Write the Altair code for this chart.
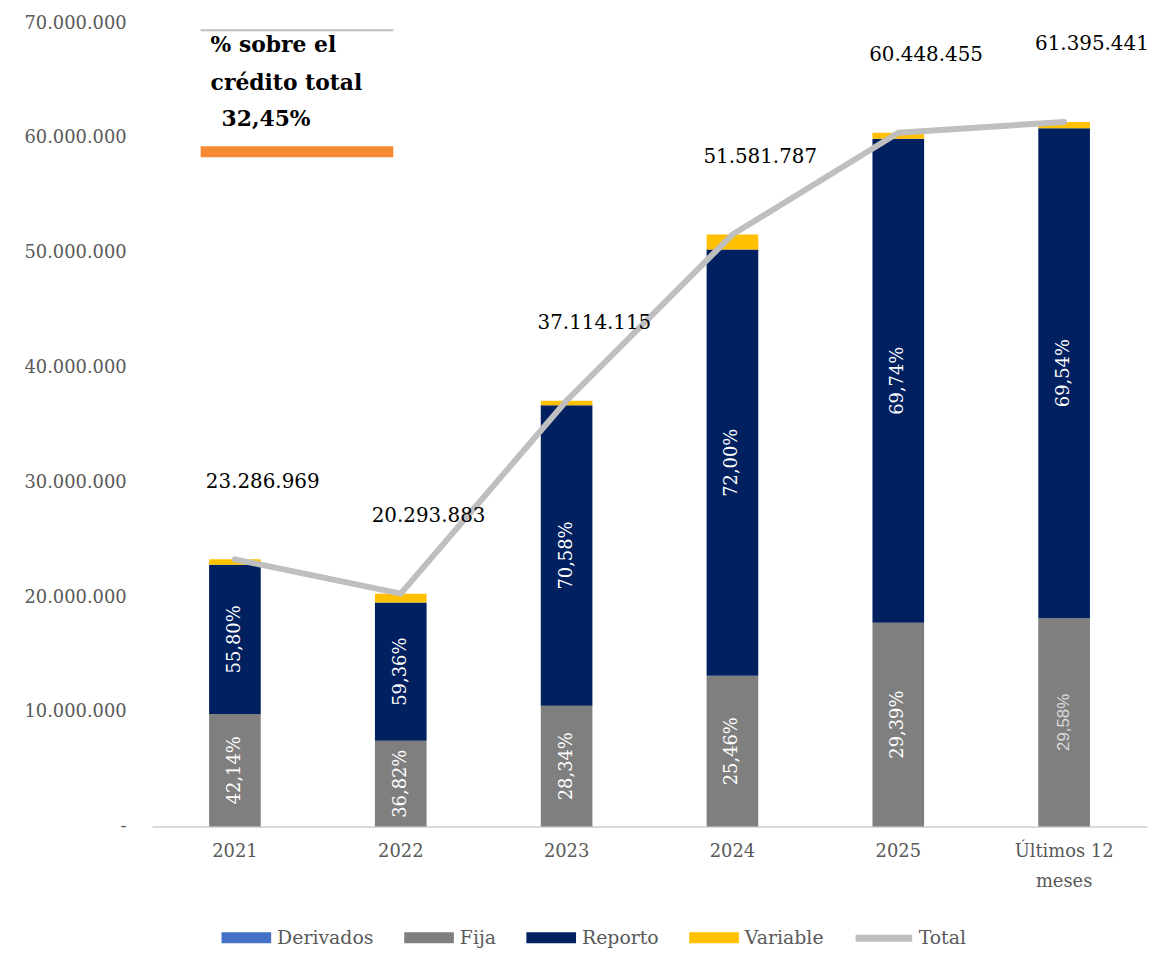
import altair as alt
import pandas as pd

# ---- data ----
categories = ["2021", "2022", "2023", "2024", "2025", "Últimos 12 meses"]
totals = [23286969, 20293883, 37114115, 51581787, 60448455, 61395441]
pct_derivados = [0.00, 0.00, 0.00, 0.00, 0.00, 0.00]
pct_fija = [42.14, 36.82, 28.34, 25.46, 29.39, 29.58]
pct_reporto = [55.80, 59.36, 70.58, 72.00, 69.74, 69.54]
pct_variable = [2.06, 3.82, 1.08, 2.54, 0.87, 0.88]
series_names = ["Derivados", "Fija", "Reporto", "Variable"]
series_colors = ["#4472C4", "#7F7F7F", "#002060", "#FFC000"]
y_ticks = [0, 10000000, 20000000, 30000000, 40000000, 50000000, 60000000, 70000000]
note_lines = ["% sobre el", "crédito total"]
note_value = "32,45%"

SERIF = "DejaVu Serif"
GREY_TXT = "#595959"

# ---- build tables ----
rows = []
pct_map = {"Derivados": pct_derivados, "Fija": pct_fija,
           "Reporto": pct_reporto, "Variable": pct_variable}
for i, cat in enumerate(categories):
    base = 0.0
    for k, s in enumerate(series_names):
        p = pct_map[s][i]
        v = totals[i] * p / 100.0
        rows.append({
            "category": cat, "series": s, "value": v, "order": k,
            "mid": base + v / 2.0,
            "label": (f"{p:.2f}".replace(".", ",") + "%"),
        })
        base += v
bars_df = pd.DataFrame(rows)
lab_df = bars_df[bars_df["series"].isin(["Fija", "Reporto"])].copy()

tot_df = pd.DataFrame({
    "category": categories,
    "total": totals,
    "series": ["Total"] * len(categories),
    "label": [f"{t:,}".replace(",", ".") for t in totals],
})

x_enc = alt.X(
    "category:N", sort=categories,
    scale=alt.Scale(domain=categories, paddingInner=0, paddingOuter=0),
    axis=alt.Axis(
        title=None, labelAngle=0, labelFont=SERIF, labelFontSize=18,
        labelColor=GREY_TXT, labelPadding=16, ticks=False,
        domainColor="#D9D9D9", domainWidth=2, labelLineHeight=30,
        labelExpr="datum.value == 'Últimos 12 meses' ? ['Últimos 12', 'meses'] : datum.label",
    ),
)

y_scale = alt.Scale(domain=[0, 70000000], nice=False)
y_axis = alt.Axis(
    title=None, values=y_ticks, grid=False, domain=False, ticks=False,
    labelFont=SERIF, labelFontSize=18, labelColor=GREY_TXT, labelPadding=26,
    minExtent=145, maxExtent=145,
    labelExpr="datum.value == 0 ? '-' : replace(replace(format(datum.value, ','), ',', '.'), ',', '.')",
)

bars = alt.Chart(bars_df).mark_bar(size=52).encode(
    x=x_enc,
    y=alt.Y("value:Q", stack="zero", scale=y_scale, axis=y_axis),
    color=alt.Color(
        "series:N",
        scale=alt.Scale(domain=series_names, range=series_colors),
        legend=alt.Legend(
            title=None, orient="none", direction="horizontal",
            legendX=70, legendY=896, padding=0,
            symbolType="M-1,-0.22L1,-0.22L1,0.22L-1,0.22Z", symbolSize=2500,
            symbolStrokeWidth=0, symbolOpacity=1,
            labelFont=SERIF, labelFontSize=19, labelColor=GREY_TXT,
            labelOffset=6, columnPadding=30,
        ),
    ),
    order=alt.Order("order:Q"),
)

bar_labels = alt.Chart(lab_df).transform_filter(
    "!(datum.category == 'Últimos 12 meses' && datum.series == 'Fija')"
).mark_text(
    angle=270, color="white", font=SERIF, fontSize=18,
    align="center", baseline="middle",
).encode(
    x=alt.X("category:N", sort=categories),
    y=alt.Y("mid:Q", stack=None),
    text="label:N",
)

bar_label_last = alt.Chart(lab_df).transform_filter(
    "datum.category == 'Últimos 12 meses' && datum.series == 'Fija'"
).mark_text(
    angle=270, color="#D9D9D9", font="Liberation Sans", fontSize=17,
    align="center", baseline="middle",
).encode(
    x=alt.X("category:N", sort=categories),
    y=alt.Y("mid:Q", stack=None),
    text="label:N",
)

line = alt.Chart(tot_df).mark_line(
    strokeWidth=6, strokeCap="round", strokeJoin="round",
).encode(
    x=alt.X("category:N", sort=categories),
    y=alt.Y("total:Q"),
    stroke=alt.Stroke(
        "series:N",
        scale=alt.Scale(domain=["Total"], range=["#BFBFBF"]),
        legend=alt.Legend(
            title=None, orient="none", legendX=705, legendY=889.5, padding=0,
            symbolType="stroke", symbolSize=3249, symbolStrokeWidth=7,
            labelFont=SERIF, labelFontSize=19, labelColor=GREY_TXT,
            labelOffset=3,
        ),
    ),
)

line_labels = alt.Chart(tot_df).mark_text(
    font=SERIF, fontSize=20, color="#000000", dx=28, dy=-78,
    align="center", baseline="middle",
).encode(
    x=alt.X("category:N", sort=categories),
    y=alt.Y("total:Q"),
    text="label:N",
)

note_df = pd.DataFrame({"txt": [note_lines], "val": [note_value]})
note_rule = alt.Chart(note_df).mark_rule(color="#BFBFBF", strokeWidth=2).encode(
    x=alt.value(49), x2=alt.value(243), y=alt.value(7)
)
note_rect = alt.Chart(note_df).mark_rect(color="#F58A32").encode(
    x=alt.value(49), x2=alt.value(243), y=alt.value(124), y2=alt.value(135)
)
note_text = alt.Chart(note_df).mark_text(
    font=SERIF, fontSize=22, fontWeight="bold", color="#000000",
    align="left", baseline="middle", lineHeight=38,
).encode(
    x=alt.value(59), y=alt.value(22), text="txt"
)
note_val = alt.Chart(note_df).mark_text(
    font=SERIF, fontSize=22, fontWeight="bold", color="#000000",
    align="left", baseline="middle",
).encode(
    x=alt.value(70), y=alt.value(97), text="val:N"
)

chart = alt.layer(
    bars, line, line_labels, bar_labels, bar_label_last,
    note_rule, note_rect, note_text, note_val,
).resolve_scale(
    color="independent"
).properties(
    width=1002, height=809,
    autosize=alt.AutoSizeParams(type="none"),
    padding={"left": 145, "top": 12, "right": 6, "bottom": 125},
).configure_view(stroke=None)

chart.save("out.html", embed_options={"renderer": "svg", "actions": False})
